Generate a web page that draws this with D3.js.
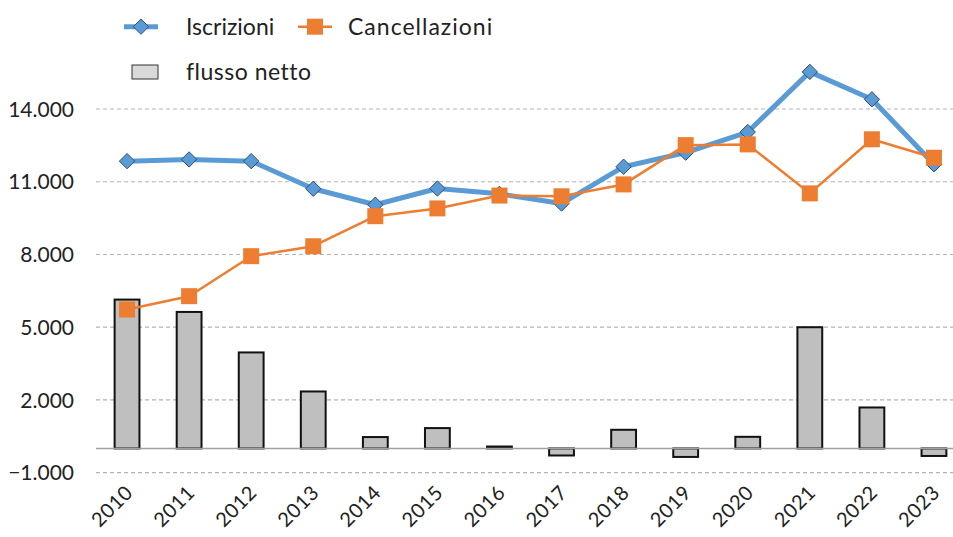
<!DOCTYPE html>
<html><head><meta charset="utf-8">
<script src="https://cdn.jsdelivr.net/npm/d3@7"></script>
<style>body{margin:0;background:#fff}svg{display:block}text{font-family:Lato,"Noto Sans",sans-serif;fill:#222}</style>
</head><body><svg id="c" width="953" height="537"></svg>
<script>
const years = ["2010","2011","2012","2013","2014","2015","2016","2017","2018","2019","2020","2021","2022","2023"];
const iscrizioni = [11850,11920,11850,10710,10050,10720,10500,10100,11620,12200,13050,15530,14400,11720];
const cancellazioni = [5730,6280,7930,8340,9580,9900,10430,10400,10890,12510,12540,10520,12750,11990];
const flussoNetto = [6140,5630,3960,2350,470,840,80,-290,770,-350,480,5000,1690,-310];
const yTicks = [-1000,2000,5000,8000,11000,14000];

const svg = d3.select("#c");
const fmt = v => d3.format(",")(v).replace(/,/g,".");
const x = d3.scaleBand().domain(years).range([96,965]).paddingInner(0.6).paddingOuter(0.3);
const y = d3.scaleLinear().domain([-1000,14000]).range([472.7,109]);
const cx = d => x(d)+x.bandwidth()/2;

// gridlines
svg.append("g").selectAll("line").data(yTicks).join("line")
  .attr("x1",96).attr("x2",953).attr("y1",d=>y(d)).attr("y2",d=>y(d))
  .attr("stroke","#b4b4b4").attr("stroke-width",1.2).attr("stroke-dasharray","4,3");
// y labels
svg.append("g").selectAll("text").data(yTicks).join("text")
  .attr("x",74).attr("y",d=>y(d)).attr("dy","0.36em").attr("text-anchor","end")
  .style("font-size","21px").text(fmt);

// bars
svg.append("g").selectAll("rect").data(flussoNetto).join("rect")
  .attr("x",(d,i)=>x(years[i])).attr("width",x.bandwidth())
  .attr("y",d=>y(Math.max(0,d))).attr("height",d=>Math.abs(y(d)-y(0)))
  .attr("fill","#bfbfbf").attr("stroke","#111").attr("stroke-width",2);
// zero line
svg.append("line").attr("x1",96).attr("x2",953).attr("y1",y(0)).attr("y2",y(0))
  .attr("stroke","#a0a0a0").attr("stroke-width",1.5);

// x labels
svg.append("g").selectAll("text").data(years).join("text")
  .attr("text-anchor","end")
  .attr("transform",d=>`translate(${cx(d)+7},${494}) rotate(-45)`)
  .style("font-size","20px").style("letter-spacing","0.5px").text(d=>d);

// lines
const line = d3.line().x((d,i)=>cx(years[i])).y(d=>y(d));
svg.append("path").datum(iscrizioni).attr("d",line).attr("fill","none")
  .attr("stroke","#5b9bd5").attr("stroke-width",5).attr("stroke-linejoin","round");
svg.append("g").selectAll("path").data(iscrizioni).join("path")
  .attr("d",d3.symbol(d3.symbolDiamond2,150))
  .attr("transform",(d,i)=>`translate(${cx(years[i])},${y(d)})`)
  .attr("fill","#5b9bd5").attr("stroke","#2f4f6f").attr("stroke-width",1);
svg.append("path").datum(cancellazioni).attr("d",line).attr("fill","none")
  .attr("stroke","#ed7d31").attr("stroke-width",2.5).attr("stroke-linejoin","round");
svg.append("g").selectAll("rect").data(cancellazioni).join("rect")
  .attr("x",(d,i)=>cx(years[i])-8).attr("y",d=>y(d)-8).attr("width",16).attr("height",16)
  .attr("fill","#ed7d31");

// legend
const lg = svg.append("g");
lg.append("line").attr("x1",124).attr("x2",158).attr("y1",26.7).attr("y2",26.7).attr("stroke","#5b9bd5").attr("stroke-width",5);
lg.append("path").attr("d",d3.symbol(d3.symbolDiamond2,150)).attr("transform","translate(141,26.7)")
  .attr("fill","#5b9bd5").attr("stroke","#2f4f6f").attr("stroke-width",1);
lg.append("text").attr("x",186).attr("y",27).attr("dy","0.36em").style("font-size","23px").text("Iscrizioni");
lg.append("line").attr("x1",298).attr("x2",332).attr("y1",26.7).attr("y2",26.7).attr("stroke","#ed7d31").attr("stroke-width",2.5);
lg.append("rect").attr("x",307).attr("y",18.7).attr("width",16).attr("height",16).attr("fill","#ed7d31");
lg.append("text").attr("x",348).attr("y",27).attr("dy","0.36em").style("font-size","23px").style("letter-spacing","1px").text("Cancellazioni");
lg.append("rect").attr("x",132).attr("y",65).attr("width",26).attr("height",14).attr("fill","#d9d9d9").attr("stroke","#333").attr("stroke-width",1);
lg.append("text").attr("x",186).attr("y",72).attr("dy","0.36em").style("font-size","23px").style("letter-spacing","0.5px").text("flusso netto");
</script></body></html>
